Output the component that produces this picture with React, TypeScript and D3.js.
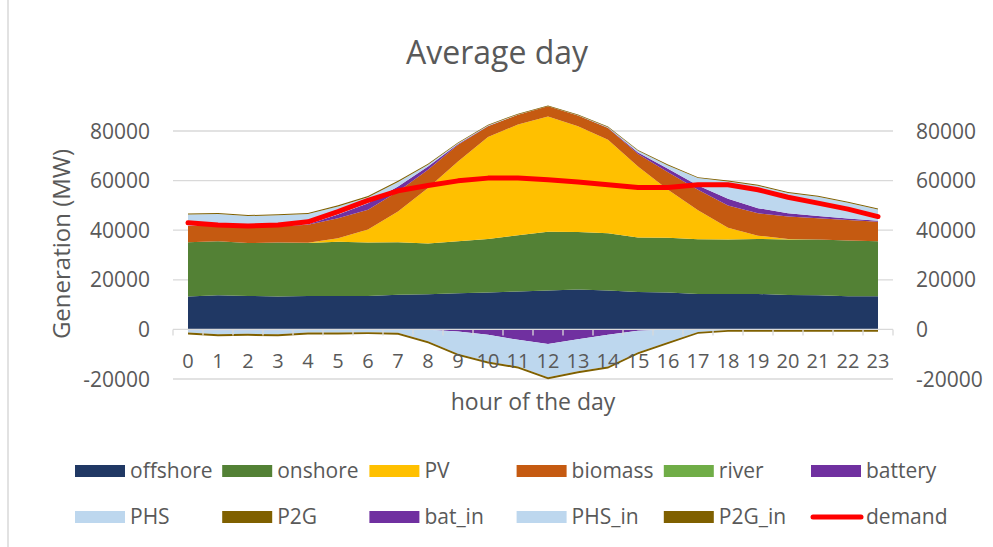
import React from "react";
import * as d3 from "d3";

// hourly averages, MW
const hours = [0, 1, 2, 3, 4, 5, 6, 7, 8, 9, 10, 11, 12, 13, 14, 15, 16, 17, 18, 19, 20, 21, 22, 23];

const offshore = [13300, 13800, 13500, 13300, 13500, 13500, 13500, 14000, 14200, 14600, 14900, 15300, 15700, 16100, 15700, 15100, 14900, 14300, 14300, 14300, 13900, 13800, 13400, 13400];
const onshore = [21800, 21700, 21300, 21700, 21300, 21800, 21500, 21100, 20400, 20900, 21600, 22700, 23700, 23200, 23100, 22000, 22100, 22100, 22000, 22200, 22400, 22400, 22400, 22100];
const pv = [0, 0, 0, 0, 100, 1500, 5300, 12400, 22400, 32200, 41100, 44600, 46400, 42600, 37700, 28600, 19300, 11600, 4700, 1300, 200, 0, 0, 0];
const biomass = [6600, 6200, 6400, 6500, 7300, 8000, 7900, 8100, 7400, 6800, 4300, 4000, 4200, 4400, 4700, 5000, 7100, 8300, 9000, 9000, 9000, 8600, 8300, 7900];
const river = [0, 0, 0, 0, 0, 0, 0, 0, 0, 0, 0, 0, 0, 0, 0, 0, 0, 0, 0, 0, 0, 0, 0, 0];
const battery = [0, 100, 100, 100, 200, 1500, 2700, 2000, 1300, 300, 100, 0, 0, 0, 100, 600, 1400, 1700, 2700, 2100, 1300, 900, 600, 400];
const phs = [4600, 4700, 4400, 4400, 4100, 3300, 2400, 1800, 700, 300, 200, 100, 0, 100, 200, 700, 1300, 3000, 6900, 9000, 8200, 7800, 6400, 4500];
const p2g = [400, 400, 400, 400, 400, 500, 500, 500, 400, 300, 300, 300, 300, 300, 300, 300, 400, 400, 400, 400, 400, 400, 400, 400];
const batIn = [-300, -300, -300, -300, -200, 0, 0, 0, -100, -800, -2200, -4200, -5900, -4000, -2200, -500, 0, 0, 0, 0, 0, 0, 0, 0];
const phsIn = [-1000, -1700, -1500, -1700, -1100, -1300, -1100, -1400, -4700, -9000, -10700, -10800, -13400, -12900, -12800, -8700, -5100, -1000, -200, -200, -200, -200, -200, -200];
const p2gIn = [-800, -800, -800, -800, -800, -800, -800, -800, -800, -800, -800, -800, -800, -800, -800, -800, -800, -800, -700, -700, -700, -700, -700, -700];
const demand = [43000, 42100, 41700, 42100, 43400, 47500, 52000, 55900, 58000, 59900, 61000, 61000, 60300, 59400, 58300, 57200, 57200, 58300, 58300, 56300, 53300, 50900, 48500, 45500];

const yTicks = [-20000, 0, 20000, 40000, 60000, 80000];

const positiveKeys = ["offshore", "onshore", "PV", "biomass", "river", "battery", "PHS", "P2G"];
const negativeKeys = ["bat_in", "PHS_in", "P2G_in"];

const colors: Record<string, string> = {
  offshore: "#203864",
  onshore: "#538135",
  PV: "#ffc000",
  biomass: "#c55a11",
  river: "#70ad47",
  battery: "#7030a0",
  PHS: "#bdd7ee",
  P2G: "#7f6000",
  bat_in: "#7030a0",
  PHS_in: "#bdd7ee",
  P2G_in: "#7f6000",
  demand: "#ff0000",
};

const legendItems = [...positiveKeys, ...negativeKeys, "demand"];

const W = 993;
const H = 547;
const textColor = "#595959";
const gridColor = "#d9d9d9";
const font = "'Open Sans', sans-serif";

export default function App() {
  const x = d3.scaleBand<number>().domain(hours).range([173, 893]).padding(0);
  const cx = (h: number) => (x(h) as number) + x.bandwidth() / 2;
  const y = d3.scaleLinear().domain([-20000, 80000]).range([379, 131]);

  const rows = hours.map((h, i) => ({
    hour: h,
    offshore: offshore[i],
    onshore: onshore[i],
    PV: pv[i],
    biomass: biomass[i],
    river: river[i],
    battery: battery[i],
    PHS: phs[i],
    P2G: p2g[i],
    bat_in: batIn[i],
    PHS_in: phsIn[i],
    P2G_in: p2gIn[i],
  }));

  const posSeries = d3.stack<any>().keys(positiveKeys)(rows);
  const negSeries = d3.stack<any>().keys(negativeKeys)(rows);

  const area = d3
    .area<any>()
    .x((d) => cx(d.data.hour))
    .y0((d) => y(d[0]))
    .y1((d) => y(d[1]));

  const line = d3
    .line<number>()
    .x((_, i) => cx(hours[i]))
    .y((d) => y(d));

  const tickXs = [...hours.map((h) => x(h) as number), 893];

  return (
    <svg
      width={W}
      height={H}
      style={{ position: "absolute", left: 0, top: 0, background: "#fff" }}
      fontFamily={font}
    >
      <line x1={8} x2={8} y1={0} y2={H} stroke={gridColor} strokeWidth={1.5} />

      <text x={497} y={64} textAnchor="middle" fontSize={32} fill={textColor}>
        Average day
      </text>

      {/* gridlines */}
      {yTicks
        .filter((t) => t !== 0)
        .map((t) => (
          <line key={t} x1={173} x2={893} y1={y(t)} y2={y(t)} stroke={gridColor} strokeWidth={1.3} />
        ))}

      {/* areas */}
      {posSeries.map((s) => (
        <path key={s.key} d={area(s) || ""} fill={colors[s.key]} />
      ))}
      {negSeries.map((s) => (
        <path key={s.key} d={area(s) || ""} fill={colors[s.key]} />
      ))}

      {/* x axis */}
      <line x1={173} x2={893} y1={y(0)} y2={y(0)} stroke={gridColor} strokeWidth={1.3} />
      {tickXs.map((tx, i) => (
        <line key={i} x1={tx} x2={tx} y1={y(0)} y2={y(0) + 6} stroke={gridColor} strokeWidth={1.3} />
      ))}

      {/* demand */}
      <path d={line(demand) || ""} fill="none" stroke={colors.demand} strokeWidth={5} strokeLinecap="round" strokeLinejoin="round" />

      {/* y labels */}
      {yTicks.map((t) => (
        <g key={t} fontSize={21} fill={textColor}>
          <text x={150} y={y(t)} dy="0.36em" textAnchor="end">
            {t}
          </text>
          <text x={916} y={y(t)} dy="0.36em" textAnchor="start">
            {t}
          </text>
        </g>
      ))}

      {/* x labels */}
      {hours.map((h) => (
        <text key={h} x={cx(h)} y={368} textAnchor="middle" fontSize={20} fill={textColor}>
          {h}
        </text>
      ))}

      <text x={533} y={410} textAnchor="middle" fontSize={23} fill={textColor}>
        hour of the day
      </text>
      <text
        transform="translate(70,244) rotate(-90)"
        textAnchor="middle"
        fontSize={24}
        fill={textColor}
      >
        Generation (MW)
      </text>

      {/* legend */}
      {legendItems.map((k, i) => {
        const col = i % 6;
        const row = Math.floor(i / 6);
        const lx = 75 + col * 147.2;
        const ly = 471 + row * 46;
        return (
          <g key={k}>
            {k === "demand" ? (
              <line x1={lx + 2} x2={lx + 50} y1={ly} y2={ly} stroke={colors[k]} strokeWidth={5} strokeLinecap="round" />
            ) : (
              <rect x={lx} y={ly - 6} width={50} height={12} fill={colors[k]} />
            )}
            <text x={lx + 55} y={ly} dy="0.35em" fontSize={21} fill={textColor}>
              {k}
            </text>
          </g>
        );
      })}
    </svg>
  );
}
